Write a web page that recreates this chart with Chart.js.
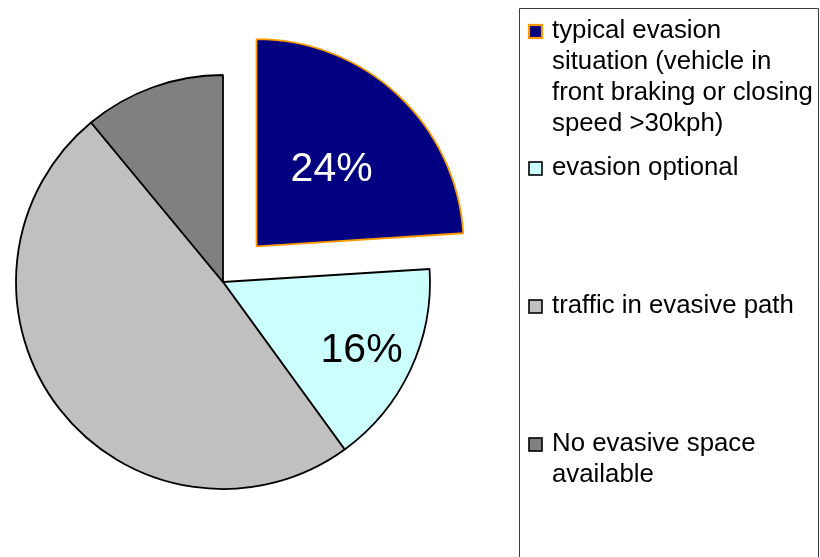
<!DOCTYPE html>
<html>
<head>
<meta charset="utf-8">
<script src="https://cdn.jsdelivr.net/npm/chart.js@4/dist/chart.umd.min.js"></script>
<style>
  html, body { margin: 0; padding: 0; background: #fff; }
  #wrap { position: relative; width: 820px; height: 557px; overflow: hidden; }
  canvas { position: absolute; left: 0; top: 0; }
</style>
</head>
<body>
<div id="wrap"><canvas id="pie" width="820" height="557"></canvas></div>
<script>
// Situation categories (multi-line legend labels) and their shares in percent
const categories = [
  ["typical evasion", "situation (vehicle in", "front braking or closing", "speed >30kph)"],
  ["evasion optional"],
  ["traffic in evasive path"],
  ["No evasive space", "available"]
];
const shares = [24, 16, 49, 11];
// Slices that carry a percentage label
const labeledSlices = [0, 1];

// Palette
const fillColors = ["#000080", "#CCFFFF", "#C0C0C0", "#808080"];
const edgeColors = ["#FF9900", "#000000", "#000000", "#000000"];

const FONT = '"Liberation Sans", Arial, sans-serif';

// Percentage text inside the slices
const sliceLabels = {
  id: 'sliceLabels',
  afterDatasetsDraw(chart) {
    const ctx = chart.ctx;
    const meta = chart.getDatasetMeta(0);
    const radialFrac = { 0: 0.53, 1: 0.74 };
    const textColor = { 0: '#ffffff', 1: '#000000' };
    const size = 41;
    ctx.save();
    ctx.font = size + 'px ' + FONT;
    ctx.textAlign = 'center';
    ctx.textBaseline = 'alphabetic';
    labeledSlices.forEach(i => {
      const arc = meta.data[i];
      const p = arc.getProps(['x', 'y', 'startAngle', 'endAngle', 'outerRadius']);
      const opts = arc.options;
      const mid = (p.startAngle + p.endAngle) / 2;
      const shift = (opts.offset || 0) / 4;
      const r = p.outerRadius * radialFrac[i];
      const cx = p.x + Math.cos(mid) * (shift + r);
      const cy = p.y + Math.sin(mid) * (shift + r);
      ctx.fillStyle = textColor[i];
      ctx.fillText(shares[i] + '%', cx, cy + size * 0.716 / 2);
    });
    ctx.restore();
  }
};

// Boxed legend on the right
const boxedLegend = {
  id: 'boxedLegend',
  afterDraw(chart) {
    const ctx = chart.ctx;
    const boxL = 519.5, boxT = 8.5, boxR = 818.5, boxB = 600;
    const firstBaselines = [37.5, 175, 313, 451];
    const lineH = 31.2;
    const textX = 552;
    const markX = 529, markSize = 13;
    ctx.save();
    ctx.strokeStyle = '#3a3a3a';
    ctx.lineWidth = 1;
    ctx.beginPath();
    ctx.moveTo(boxL, boxB);
    ctx.lineTo(boxL, boxT);
    ctx.lineTo(boxR, boxT);
    ctx.lineTo(boxR, boxB);
    ctx.stroke();

    ctx.font = '25.8px ' + FONT;
    ctx.textAlign = 'left';
    ctx.textBaseline = 'alphabetic';
    categories.forEach((lines, i) => {
      const base = firstBaselines[i];
      // marker
      ctx.fillStyle = fillColors[i];
      ctx.strokeStyle = edgeColors[i];
      ctx.lineWidth = i === 0 ? 2.2 : 1.6;
      const my = Math.round(base - markSize);
      ctx.fillRect(markX, my, markSize, markSize);
      ctx.strokeRect(markX, my, markSize, markSize);
      // text
      ctx.fillStyle = '#000';
      lines.forEach((t, k) => ctx.fillText(t, textX, base + k * lineH));
    });
    ctx.restore();
  }
};

new Chart(document.getElementById('pie'), {
  type: 'pie',
  data: {
    labels: categories,
    datasets: [{
      data: shares,
      backgroundColor: fillColors,
      borderColor: edgeColors,
      borderWidth: 1.8,
      offset: [196, 0, 0, 0]
    }]
  },
  options: {
    responsive: false,
    animation: false,
    radius: 207,
    rotation: 0,
    layout: { padding: { left: 0, right: 374, top: 7, bottom: 0 } },
    plugins: {
      legend: { display: false },
      tooltip: { enabled: false }
    }
  },
  plugins: [sliceLabels, boxedLegend]
});
</script>
</body>
</html>
